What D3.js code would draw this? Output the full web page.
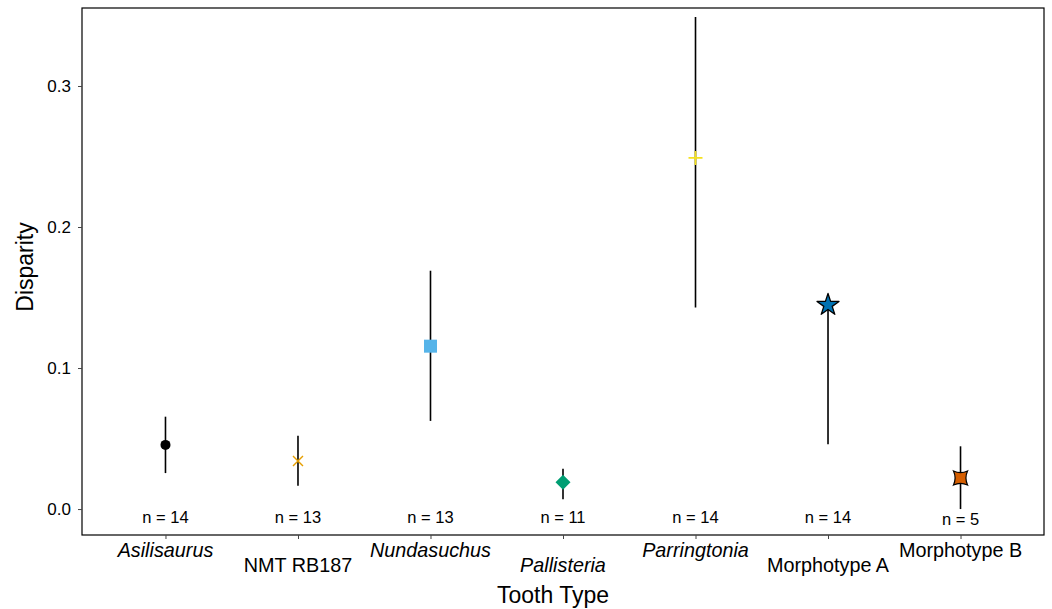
<!DOCTYPE html>
<html>
<head>
<meta charset="utf-8">
<script src="https://cdn.jsdelivr.net/npm/d3@7"></script>
<style>
  body { margin: 0; background: #fff; }
  text { font-family: "Liberation Sans", Arial, sans-serif; }
</style>
</head>
<body>
<div id="chart"></div>
<script>
// tooth types and disparity values
var toothTypes = ["Asilisaurus", "NMT RB187", "Nundasuchus", "Pallisteria", "Parringtonia", "Morphotype A", "Morphotype B"];
var italicType = [true, false, true, true, true, false, false];
var disparity = [0.0455, 0.0340, 0.1155, 0.0190, 0.2490, 0.1447, 0.0220];
var lowerCI = [0.0255, 0.0165, 0.0625, 0.0070, 0.1430, 0.0460, 0.0000];
var upperCI = [0.0655, 0.0520, 0.1690, 0.0285, 0.3490, 0.1460, 0.0445];
var sampleSize = [14, 13, 13, 11, 14, 14, 5];
var markerColors = ["#000000", "#E69F00", "#56B4E9", "#009E73", "#F5E11E", "#0072B2", "#D55E00"];
var yTicks = [0.0, 0.1, 0.2, 0.3];

var svg_width = 1052, svg_height = 609;
var margin = {top: 8, right: 8, bottom: 74, left: 82};
var width = svg_width - margin.left - margin.right;
var height = svg_height - margin.top - margin.bottom;

var svg = d3.select("#chart").append("svg")
  .attr("width", svg_width)
  .attr("height", svg_height);

var g = svg.append("g")
  .attr("transform", "translate(" + margin.left + "," + margin.top + ")");

var x = d3.scalePoint()
  .domain(toothTypes)
  .range([0, width])
  .padding(0.63);

var y = d3.scaleLinear()
  .domain([-0.0184, 0.3553])
  .range([height, 0]);

// frame
g.append("rect")
  .attr("width", width).attr("height", height)
  .attr("fill", "none").attr("stroke", "#000").attr("stroke-width", 1.2);

// y axis
var yAxis = g.append("g")
  .call(d3.axisLeft(y).tickValues(yTicks).tickFormat(d3.format(".1f")).tickSize(4));
yAxis.select(".domain").remove();
yAxis.selectAll("text").attr("font-size", 17).attr("fill", "#000").attr("dx", "-4px");
yAxis.selectAll("line").attr("stroke", "#444");

// x axis with staggered labels
var xAxis = g.append("g")
  .attr("transform", "translate(0," + height + ")")
  .call(d3.axisBottom(x).tickSize(4).tickFormat(""));
xAxis.select(".domain").remove();
xAxis.selectAll("line").attr("stroke", "#444");

g.selectAll(".cat-label")
  .data(toothTypes)
  .enter().append("text")
  .attr("class", "cat-label")
  .attr("x", function(d) { return x(d); })
  .attr("y", function(d, i) { return height + (i % 2 == 0 ? 22 : 37); })
  .attr("text-anchor", "middle")
  .attr("font-size", 19.8)
  .attr("font-style", function(d, i) { return italicType[i] ? "italic" : "normal"; })
  .text(function(d) { return d; });

// axis titles
svg.append("text")
  .attr("x", 553)
  .attr("y", 603)
  .attr("text-anchor", "middle")
  .attr("font-size", 23)
  .text("Tooth Type");

svg.append("text")
  .attr("transform", "translate(33,267) rotate(-90)")
  .attr("text-anchor", "middle")
  .attr("font-size", 23)
  .text("Disparity");

// error bars
g.selectAll(".ci")
  .data(toothTypes)
  .enter().append("line")
  .attr("class", "ci")
  .attr("x1", function(d) { return x(d); })
  .attr("x2", function(d) { return x(d); })
  .attr("y1", function(d, i) { return y(lowerCI[i]); })
  .attr("y2", function(d, i) { return y(upperCI[i]); })
  .attr("stroke", "#000")
  .attr("stroke-width", 1.6);

// sample size labels
g.selectAll(".nlab")
  .data(toothTypes)
  .enter().append("text")
  .attr("class", "nlab")
  .attr("x", function(d) { return x(d); })
  .attr("y", function(d, i) { return y(0) + (i == 6 ? 16 : 14); })
  .attr("text-anchor", "middle")
  .attr("font-size", 16.5)
  .text(function(d, i) { return "n = " + sampleSize[i]; });

// markers
function concaveStar(r) {
  // four pointed star with curved sides
  var p = "M" + (-r) + "," + (-r);
  p += " Q0," + (-r * 0.55) + " " + r + "," + (-r);
  p += " Q" + (r * 0.55) + ",0 " + r + "," + r;
  p += " Q0," + (r * 0.55) + " " + (-r) + "," + r;
  p += " Q" + (-r * 0.55) + ",0 " + (-r) + "," + (-r) + "Z";
  return p;
}

var pts = g.selectAll(".pt")
  .data(toothTypes)
  .enter().append("g")
  .attr("class", "pt")
  .attr("transform", function(d, i) { return "translate(" + x(d) + "," + y(disparity[i]) + ")"; });

pts.each(function(d, i) {
  var m = d3.select(this);
  var c = markerColors[i];
  if (i == 0) {
    m.append("circle").attr("r", 5).attr("fill", c);
  } else if (i == 1) {
    m.append("path").attr("d", "M-5,-5L5,5M-5,5L5,-5").attr("stroke", c).attr("stroke-width", 1.4);
  } else if (i == 2) {
    m.append("rect").attr("x", -6.5).attr("y", -6.5).attr("width", 13).attr("height", 13).attr("fill", c);
  } else if (i == 3) {
    m.append("path").attr("d", "M0,-7.5L7.5,0L0,7.5L-7.5,0Z").attr("fill", c);
  } else if (i == 4) {
    m.append("path").attr("d", "M-7,0L7,0M0,-7L0,7").attr("stroke", c).attr("stroke-width", 1.8);
  } else if (i == 5) {
    m.append("path").attr("d", d3.symbol(d3.symbolStar, 150)()).attr("fill", c)
      .attr("stroke", "#000").attr("stroke-width", 1.3).attr("stroke-linejoin", "round");
  } else {
    m.append("path").attr("d", concaveStar(7)).attr("fill", c)
      .attr("stroke", "#000").attr("stroke-width", 1.2);
  }
});
</script>
</body>
</html>
